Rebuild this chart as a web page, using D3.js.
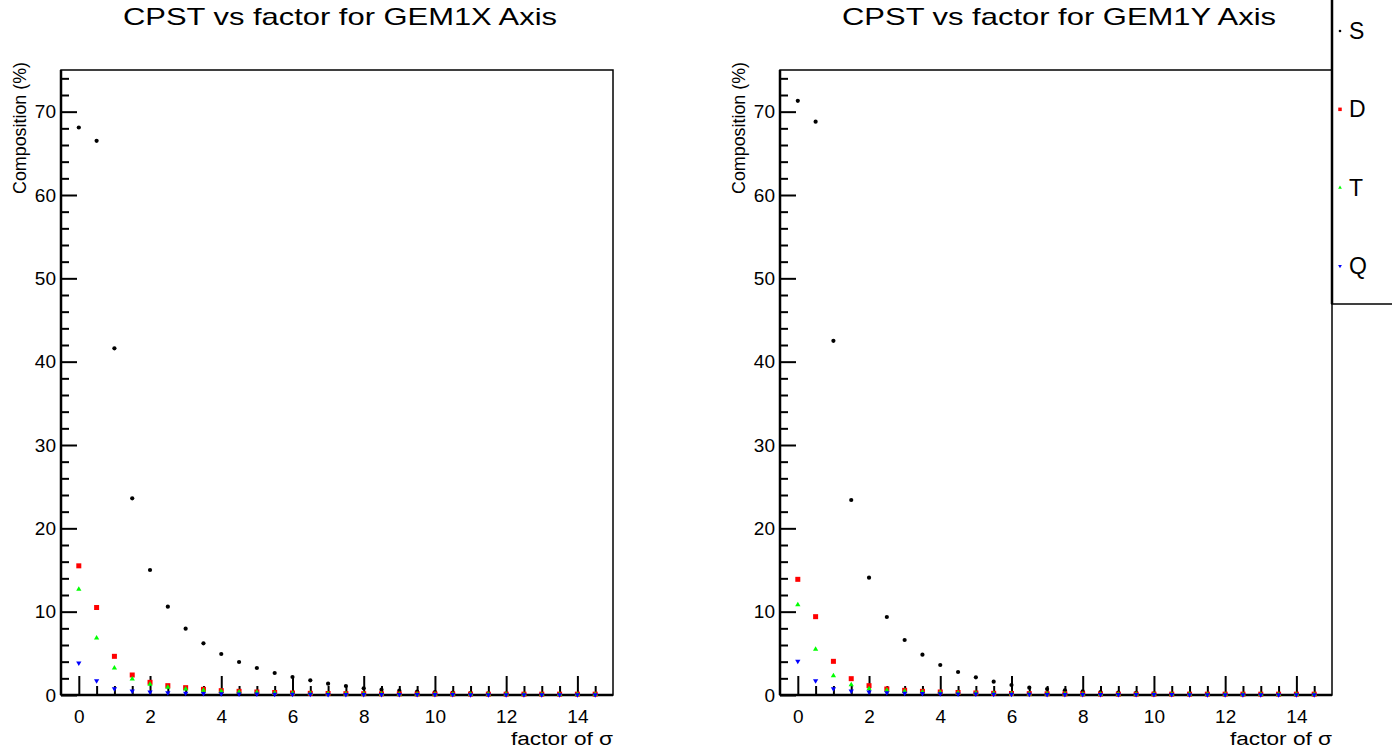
<!DOCTYPE html>
<html>
<head>
<meta charset="utf-8">
<script src="https://cdn.jsdelivr.net/npm/d3@7"></script>
<style>
  body { margin: 0; background: #fff; }
  text { font-family: "Liberation Sans", Arial, sans-serif; fill: #000; }
</style>
</head>
<body>
<div id="chart"></div>
<script>

// factor of sigma values (x)
var factors = [0, 0.5, 1, 1.5, 2, 2.5, 3, 3.5, 4, 4.5, 5, 5.5, 6, 6.5, 7, 7.5,
               8, 8.5, 9, 9.5, 10, 10.5, 11, 11.5, 12, 12.5, 13, 13.5, 14, 14.5];

// GEM1X composition (%)
var xS = [68.1, 66.5, 41.6, 23.6, 15.0, 10.6, 7.96, 6.2, 4.92, 3.96, 3.24, 2.64, 2.16, 1.76, 1.36, 1.08,
          0.8, 0.64, 0.52, 0.42, 0.34, 0.28, 0.24, 0.2, 0.17, 0.15, 0.13, 0.12, 0.11, 0.1];
var xD = [15.5, 10.5, 4.64, 2.4, 1.52, 1.12, 0.88, 0.68, 0.52, 0.44, 0.36, 0.3, 0.24, 0.2, 0.18, 0.16,
          0.15, 0.14, 0.13, 0.12, 0.12, 0.11, 0.11, 0.1, 0.1, 0.1, 0.1, 0.1, 0.1, 0.1];
var xT = [12.7, 6.84, 3.24, 1.92, 1.28, 0.92, 0.72, 0.56, 0.44, 0.36, 0.3, 0.25, 0.2, 0.17, 0.15, 0.13,
          0.12, 0.11, 0.1, 0.1, 0.09, 0.09, 0.08, 0.08, 0.08, 0.07, 0.07, 0.07, 0.07, 0.07];
var xQ = [3.84, 1.72, 0.76, 0.48, 0.36, 0.28, 0.22, 0.18, 0.15, 0.13, 0.11, 0.1, 0.09, 0.08, 0.07, 0.07,
          0.06, 0.06, 0.05, 0.05, 0.05, 0.05, 0.04, 0.04, 0.04, 0.04, 0.04, 0.04, 0.04, 0.04];

// GEM1Y composition (%)
var yS = [71.3, 68.8, 42.5, 23.4, 14.08, 9.36, 6.6, 4.84, 3.6, 2.76, 2.12, 1.6, 1.2, 0.88, 0.72, 0.56,
          0.45, 0.36, 0.3, 0.25, 0.21, 0.18, 0.16, 0.14, 0.13, 0.12, 0.11, 0.1, 0.1, 0.1];
var yD = [13.88, 9.4, 4.04, 1.96, 1.12, 0.72, 0.56, 0.44, 0.36, 0.3, 0.24, 0.2, 0.18, 0.16, 0.14, 0.13,
          0.12, 0.11, 0.1, 0.1, 0.1, 0.1, 0.1, 0.1, 0.1, 0.1, 0.1, 0.1, 0.1, 0.1];
var yT = [10.84, 5.48, 2.32, 1.24, 0.76, 0.56, 0.44, 0.36, 0.3, 0.24, 0.2, 0.17, 0.15, 0.13, 0.12, 0.11,
          0.1, 0.1, 0.09, 0.09, 0.08, 0.08, 0.08, 0.07, 0.07, 0.07, 0.07, 0.07, 0.07, 0.07];
var yQ = [4.04, 1.72, 0.76, 0.48, 0.36, 0.28, 0.22, 0.18, 0.15, 0.13, 0.11, 0.1, 0.09, 0.08, 0.07, 0.07,
          0.06, 0.06, 0.05, 0.05, 0.05, 0.05, 0.04, 0.04, 0.04, 0.04, 0.04, 0.04, 0.04, 0.04];

// ticks
var xMajor = [0, 2, 4, 6, 8, 10, 12, 14];
var xMinor = [0.5, 1, 1.5, 2.5, 3, 3.5, 4.5, 5, 5.5, 6.5, 7, 7.5, 8.5, 9, 9.5,
              10.5, 11, 11.5, 12.5, 13, 13.5, 14.5];
var yMajor = [0, 10, 20, 30, 40, 50, 60, 70];
var yMinor = [2, 4, 6, 8, 12, 14, 16, 18, 22, 24, 26, 28, 32, 34, 36, 38, 42, 44, 46, 48,
              52, 54, 56, 58, 62, 64, 66, 68, 72, 74];

var seriesNames = ["S", "D", "T", "Q"];
var seriesColors = ["#000000", "#ff0000", "#00ff00", "#0000ff"];

var W = 1392, H = 749;
var svg = d3.select("#chart").append("svg")
    .attr("width", W)
    .attr("height", H);

var panelWidth = 552, panelHeight = 625;

var x = d3.scaleLinear().domain([-0.5, 15]).range([0, panelWidth]);
var y = d3.scaleLinear().domain([0, 75]).range([panelHeight, 0]);

function marker(g, name, color, px, py, big) {
    if (name === "S") {
        g.append("circle")
            .attr("cx", px).attr("cy", py)
            .attr("r", big ? 2.1 : 1.3)
            .style("fill", color);
    } else if (name === "D") {
        var s = big ? 5 : 3.5;
        g.append("rect")
            .attr("x", px - s / 2).attr("y", py - s / 2)
            .attr("width", s).attr("height", s)
            .style("fill", color);
    } else {
        var size = big ? 12 : 6;
        g.append("path")
            .attr("d", d3.symbol(d3.symbolTriangle, size)())
            .attr("transform", "translate(" + px + "," + py + ")" + (name === "Q" ? " rotate(180)" : ""))
            .style("fill", color);
    }
}

function drawPanel(left, top, title, series) {
    var g = svg.append("g")
        .attr("transform", "translate(" + left + "," + top + ")");

    // frame
    g.append("rect")
        .attr("width", panelWidth)
        .attr("height", panelHeight)
        .style("fill", "none")
        .style("stroke", "#000")
        .style("stroke-width", 1.5);

    // y axis, major + minor ticks pointing inward
    g.append("g")
        .call(d3.axisLeft(y).tickValues(yMajor).tickSize(-16).tickPadding(5)
            .tickFormat(d3.format("d")));
    g.append("g")
        .call(d3.axisLeft(y).tickValues(yMinor).tickSize(-8).tickFormat(""));

    // x axis, ticks pointing up
    g.append("g")
        .attr("transform", "translate(0," + panelHeight + ")")
        .call(d3.axisBottom(x).tickValues(xMajor).tickSize(-19).tickPadding(15)
            .tickFormat(d3.format("d")));
    g.append("g")
        .attr("transform", "translate(0," + panelHeight + ")")
        .call(d3.axisBottom(x).tickValues(xMinor).tickSize(-9).tickFormat(""));

    g.selectAll(".domain").remove();
    g.selectAll(".tick line").style("stroke", "#000").style("stroke-width", 2);
    g.selectAll(".tick text")
        .style("font-size", "19px")
        .style("font-family", "'Liberation Sans', Arial, sans-serif");

    // axis lines
    g.append("line")
        .attr("x1", 0).attr("x2", 0).attr("y1", 0).attr("y2", panelHeight)
        .style("stroke", "#000").style("stroke-width", 2.5);
    g.append("line")
        .attr("x1", 0).attr("x2", panelWidth).attr("y1", panelHeight).attr("y2", panelHeight)
        .style("stroke", "#000").style("stroke-width", 2.5);

    // points
    series.forEach(function (vals, i) {
        vals.forEach(function (v, j) {
            marker(g, seriesNames[i], seriesColors[i], x(factors[j]), y(v), true);
        });
    });

    // title
    g.append("text")
        .attr("x", panelWidth / 2 + 3)
        .attr("y", 25 - top)
        .attr("text-anchor", "middle")
        .attr("textLength", 434)
        .attr("lengthAdjust", "spacingAndGlyphs")
        .style("font-size", "24px")
        .text(title);

    // y title
    g.append("text")
        .attr("transform", "translate(" + (-35) + "," + (-8) + ") rotate(-90)")
        .attr("text-anchor", "end")
        .attr("textLength", 132)
        .attr("lengthAdjust", "spacingAndGlyphs")
        .style("font-size", "19px")
        .text("Composition (%)");

    // x title
    g.append("text")
        .attr("x", panelWidth)
        .attr("y", panelHeight + 50)
        .attr("text-anchor", "end")
        .attr("textLength", 102)
        .attr("lengthAdjust", "spacingAndGlyphs")
        .style("font-size", "18px")
        .text("factor of \u03c3");
}

drawPanel(61, 70, "CPST vs factor for GEM1X Axis", [xS, xD, xT, xQ]);
drawPanel(780, 70, "CPST vs factor for GEM1Y Axis", [yS, yD, yT, yQ]);

// legend
var legend = svg.append("g");
legend.append("rect")
    .attr("x", 1332).attr("y", -2)
    .attr("width", 70).attr("height", 306)
    .style("fill", "#fff")
    .style("stroke", "#000")
    .style("stroke-width", 1.5);
legend.append("line")
    .attr("x1", 1332).attr("x2", 1332).attr("y1", 0).attr("y2", 304)
    .style("stroke", "#000").style("stroke-width", 2.5);

var legendY = d3.scalePoint().domain(seriesNames).range([31, 266]);
seriesNames.forEach(function (name, i) {
    marker(legend, name, seriesColors[i], 1340, legendY(name), false);
    legend.append("text")
        .attr("x", 1349)
        .attr("y", legendY(name) + 8)
        .style("font-size", "23px")
        .text(name);
});

</script>
</body>
</html>
